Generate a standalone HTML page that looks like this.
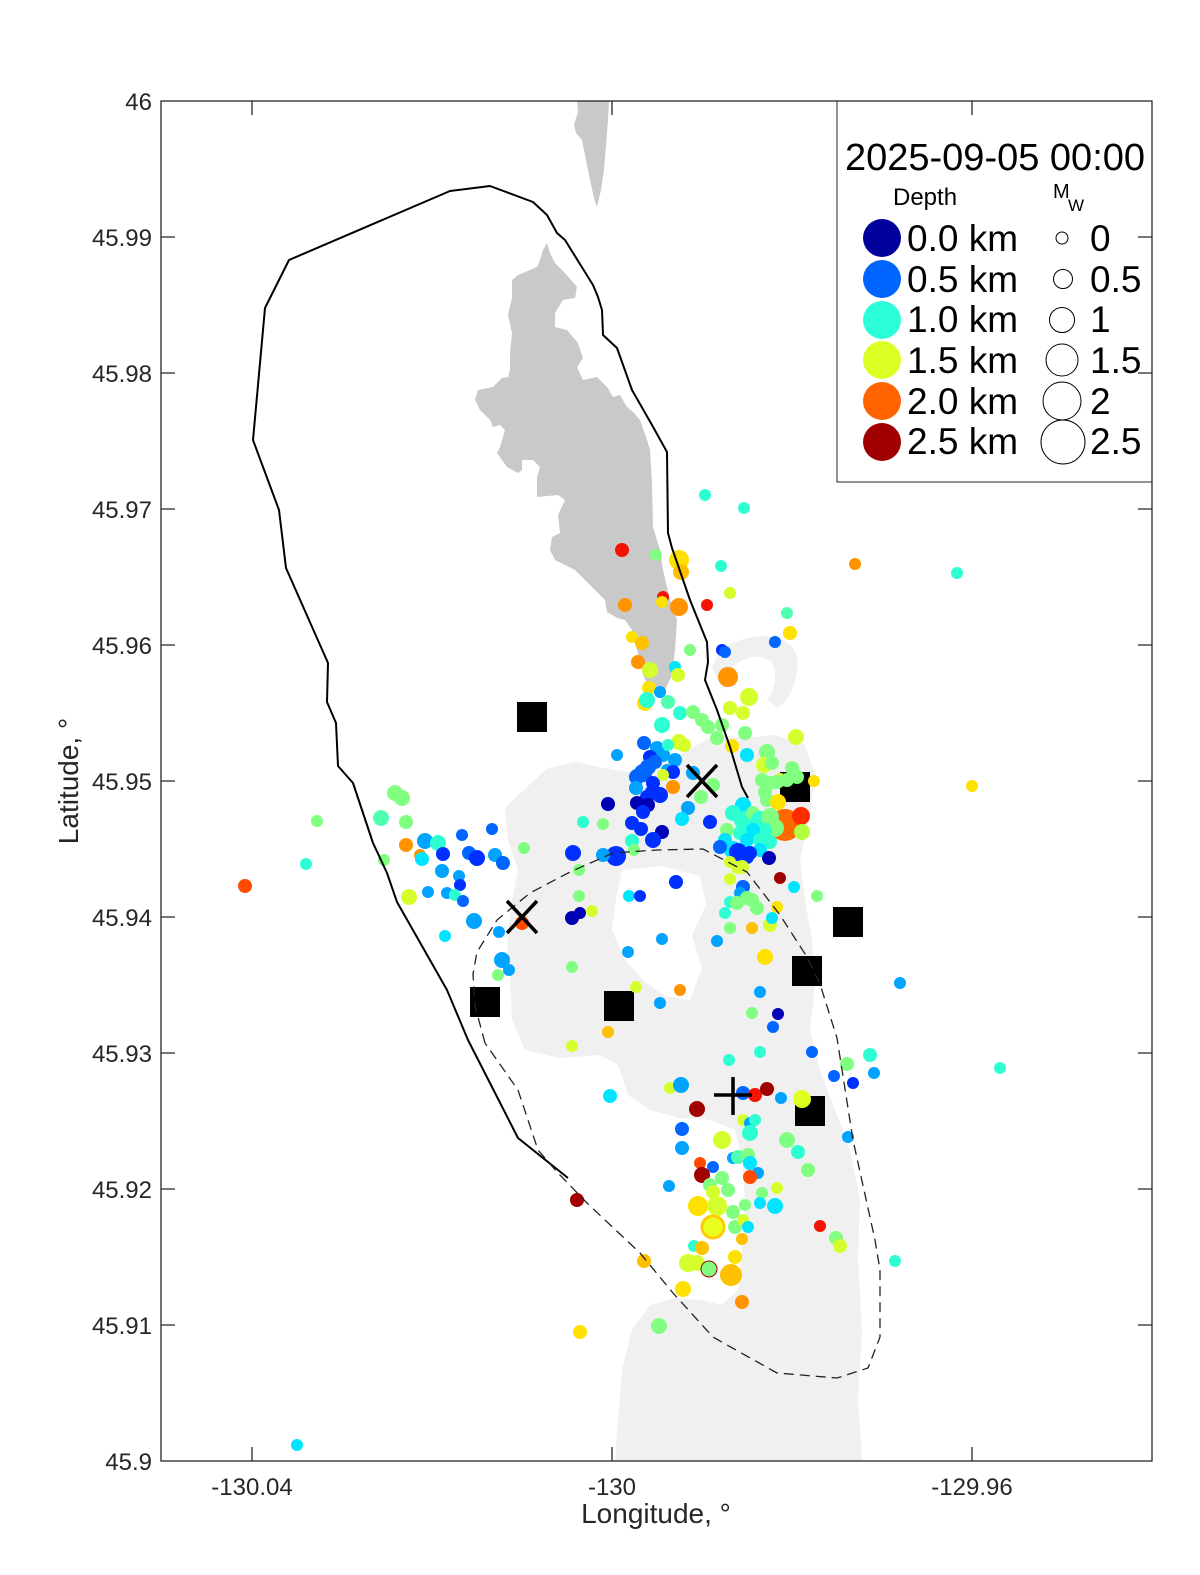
<!DOCTYPE html>
<html><head><meta charset="utf-8"><style>
html,body{margin:0;padding:0;background:#fff;}
svg{display:block;}
text{font-family:"Liberation Sans",Arial,sans-serif;}
.D{fill:#0000b4}.B{fill:#0030ff}.M{fill:#0066ff}.L{fill:#00a4ff}.C{fill:#00e4ff}.A{fill:#2effd2}.Q{fill:#50ffb0}.G{fill:#80ff80}.Y{fill:#d4ff2c}.E{fill:#ffe100}.P{fill:#ffc000}.O{fill:#ff9400}.R{fill:#ff4a00}.r{fill:#f21400}.K{fill:#a00000}
</style></head><body>
<svg width="1200" height="1575" viewBox="0 0 1200 1575" xmlns="http://www.w3.org/2000/svg">
<defs><clipPath id="ax"><rect x="161" y="101" width="991" height="1360"/></clipPath></defs>
<rect width="1200" height="1575" fill="#fff"/>
<g clip-path="url(#ax)">
<!-- light gray -->
<path fill="#f0f0f0" fill-rule="evenodd" d="M505,808 L528,786 L548,768 L575,762 L605,768 L628,772 L648,770 L668,760 L692,748 L715,735 L745,738 L775,735 L805,745 L815,775 L810,815 L800,860 L805,900 L812,940 L815,985 L810,1030 L820,1070 L835,1110 L850,1150 L860,1200 L858,1260 L862,1330 L858,1400 L862,1461 L615,1461 L618,1420 L622,1370 L632,1330 L650,1305 L675,1298 L700,1300 L722,1305 L738,1290 L742,1250 L745,1200 L742,1160 L735,1130 L710,1120 L680,1118 L650,1110 L628,1095 L618,1065 L600,1055 L560,1058 L525,1050 L512,1020 L510,980 L507,940 L512,900 L518,870 L508,840 Z M622,870 L662,866 L700,876 L706,905 L692,935 L702,968 L690,1000 L665,996 L645,982 L625,960 L612,930 L616,900 Z"/>
<path fill="#f0f0f0" d="M712,668 Q720,640 760,636 Q800,636 797,668 Q795,695 778,708 L768,700 Q780,680 772,662 Q755,650 735,665 L725,690 Z"/>
<!-- dark gray -->
<path fill="#c9c9c9" d="M577,100 L609,100 L608,120 L606,145 L604,170 L601,190 L597,207 L594,198 L590,180 L586,160 L582,140 L576,133 L574,125 L576,118 L578,112 Z"/>
<path fill="#c9c9c9" d="M547,243 L550,253 L555,263 L565,273 L577,287 L575,298 L563,300 L555,313 L555,327 L567,330 L578,343 L583,358 L577,367 L583,380 L597,377 L607,387 L613,397 L620,395 L627,407 L633,412 L640,420 L647,440 L650,450 L652,483 L653,527 L657,540 L660,550 L663,570 L670,600 L677,620 L675,650 L672,675 L665,690 L650,690 L643,675 L637,650 L632,630 L625,620 L617,618 L607,612 L605,600 L600,595 L590,585 L575,570 L555,560 L550,550 L552,537 L560,533 L558,515 L565,500 L558,495 L537,497 L537,477 L540,467 L533,460 L522,460 L522,470 L518,473 L507,467 L497,453 L500,447 L505,430 L500,425 L493,427 L490,420 L480,410 L475,400 L478,390 L493,387 L502,378 L508,377 L510,370 L510,353 L512,333 L508,315 L512,298 L512,280 L518,275 L530,270 L537,267 L540,260 L543,250 Z"/>
<!-- squares -->
<g fill="#000">
<rect x="517" y="702" width="30" height="30"/>
<rect x="780" y="772" width="30" height="30"/>
<rect x="833" y="907" width="30" height="30"/>
<rect x="792" y="956" width="30" height="30"/>
<rect x="470" y="987" width="30" height="30"/>
<rect x="604" y="991" width="30" height="30"/>
<rect x="795" y="1096" width="30" height="30"/>
</g>
<!-- events -->
<g>
<circle class="A" cx="705" cy="495" r="6"/>
<circle class="A" cx="744" cy="508" r="6"/>
<circle class="r" cx="622" cy="550" r="7"/>
<circle class="G" cx="656" cy="555" r="6"/>
<circle class="E" cx="679" cy="560" r="10"/>
<circle class="P" cx="681" cy="572" r="8"/>
<circle class="A" cx="721" cy="566" r="6"/>
<circle class="O" cx="855" cy="564" r="6"/>
<circle class="A" cx="957" cy="573" r="6"/>
<circle class="Y" cx="730" cy="593" r="6"/>
<circle class="O" cx="625" cy="605" r="7"/>
<circle class="r" cx="663" cy="597" r="6"/>
<circle class="E" cx="662" cy="602" r="6"/>
<circle class="O" cx="679" cy="607" r="9"/>
<circle class="r" cx="707" cy="605" r="6"/>
<circle class="Q" cx="787" cy="613" r="6"/>
<circle class="E" cx="790" cy="633" r="7"/>
<circle class="M" cx="775" cy="642" r="6"/>
<circle class="E" cx="632" cy="637" r="6"/>
<circle class="P" cx="642" cy="643" r="7"/>
<circle class="G" cx="690" cy="650" r="6"/>
<circle class="B" cx="722" cy="650" r="6"/>
<circle class="M" cx="725" cy="652" r="6"/>
<circle class="O" cx="728" cy="677" r="10"/>
<circle class="O" cx="638" cy="662" r="7"/>
<circle class="Y" cx="650" cy="670" r="8"/>
<circle class="C" cx="675" cy="667" r="6"/>
<circle class="Y" cx="678" cy="675" r="7"/>
<circle class="E" cx="649" cy="688" r="7"/>
<circle class="L" cx="660" cy="692" r="6"/>
<circle class="E" cx="645" cy="703" r="8"/>
<circle class="A" cx="647" cy="700" r="8"/>
<circle class="Q" cx="668" cy="702" r="7"/>
<circle class="Y" cx="749" cy="697" r="9"/>
<circle class="Y" cx="730" cy="708" r="7"/>
<circle class="Y" cx="743" cy="713" r="7"/>
<circle class="A" cx="662" cy="725" r="8"/>
<circle class="A" cx="680" cy="713" r="7"/>
<circle class="G" cx="693" cy="712" r="7"/>
<circle class="G" cx="702" cy="720" r="7"/>
<circle class="G" cx="708" cy="727" r="7"/>
<circle class="G" cx="722" cy="725" r="7"/>
<circle class="G" cx="745" cy="733" r="7"/>
<circle class="Y" cx="796" cy="737" r="8"/>
<circle class="G" cx="717" cy="738" r="7"/>
<circle class="Y" cx="679" cy="742" r="8"/>
<circle class="Y" cx="684" cy="745" r="7"/>
<circle class="E" cx="732" cy="746" r="7"/>
<circle class="C" cx="747" cy="755" r="7"/>
<circle class="G" cx="767" cy="752" r="8"/>
<circle class="G" cx="768" cy="753" r="7"/>
<circle class="L" cx="617" cy="755" r="6"/>
<circle class="M" cx="644" cy="743" r="7"/>
<circle class="L" cx="657" cy="748" r="7"/>
<circle class="L" cx="663" cy="755" r="7"/>
<circle class="L" cx="675" cy="760" r="7"/>
<circle class="A" cx="668" cy="745" r="6"/>
<circle class="B" cx="650" cy="757" r="7"/>
<circle class="M" cx="655" cy="762" r="7"/>
<circle class="L" cx="667" cy="770" r="6"/>
<circle class="B" cx="673" cy="772" r="7"/>
<circle class="M" cx="648" cy="767" r="8"/>
<circle class="M" cx="643" cy="773" r="9"/>
<circle class="M" cx="637" cy="777" r="8"/>
<circle class="B" cx="653" cy="783" r="7"/>
<circle class="L" cx="636" cy="788" r="7"/>
<circle class="B" cx="652" cy="792" r="7"/>
<circle class="B" cx="660" cy="795" r="8"/>
<circle class="B" cx="647" cy="797" r="7"/>
<circle class="D" cx="637" cy="803" r="7"/>
<circle class="D" cx="648" cy="805" r="7"/>
<circle class="B" cx="643" cy="812" r="7"/>
<circle class="O" cx="673" cy="787" r="7"/>
<circle class="Y" cx="663" cy="775" r="6"/>
<circle class="L" cx="693" cy="773" r="7"/>
<circle class="G" cx="713" cy="785" r="7"/>
<circle class="G" cx="701" cy="797" r="7"/>
<circle class="D" cx="608" cy="804" r="7"/>
<circle class="B" cx="632" cy="823" r="7"/>
<circle class="B" cx="641" cy="829" r="7"/>
<circle class="D" cx="662" cy="832" r="7"/>
<circle class="B" cx="653" cy="840" r="8"/>
<circle class="A" cx="632" cy="841" r="7"/>
<circle class="G" cx="634" cy="850" r="6"/>
<circle class="B" cx="616" cy="856" r="10"/>
<circle class="L" cx="603" cy="855" r="7"/>
<circle class="B" cx="573" cy="853" r="8"/>
<circle class="A" cx="583" cy="822" r="6"/>
<circle class="G" cx="603" cy="824" r="6"/>
<circle class="L" cx="688" cy="808" r="7"/>
<circle class="C" cx="682" cy="819" r="7"/>
<circle class="B" cx="710" cy="822" r="7"/>
<circle class="G" cx="579" cy="870" r="6"/>
<circle class="B" cx="676" cy="882" r="7"/>
<circle class="C" cx="629" cy="896" r="6"/>
<circle class="B" cx="640" cy="896" r="6"/>
<circle class="G" cx="579" cy="896" r="6"/>
<circle class="Y" cx="592" cy="911" r="6"/>
<circle class="D" cx="580" cy="913" r="6"/>
<circle class="D" cx="572" cy="918" r="7"/>
<!-- left cluster -->
<circle class="R" cx="245" cy="886" r="7"/>
<circle class="G" cx="317" cy="821" r="6"/>
<circle class="A" cx="306" cy="864" r="6"/>
<circle class="G" cx="395" cy="793" r="8"/>
<circle class="G" cx="402" cy="798" r="8"/>
<circle class="Q" cx="381" cy="818" r="8"/>
<circle class="G" cx="406" cy="822" r="7"/>
<circle class="O" cx="406" cy="845" r="7"/>
<circle class="L" cx="425" cy="841" r="8"/>
<circle class="A" cx="438" cy="843" r="8"/>
<circle class="O" cx="420" cy="855" r="6"/>
<circle class="C" cx="422" cy="859" r="7"/>
<circle class="B" cx="443" cy="854" r="7"/>
<circle class="M" cx="462" cy="835" r="6"/>
<circle class="M" cx="492" cy="829" r="6"/>
<circle class="M" cx="469" cy="853" r="7"/>
<circle class="B" cx="477" cy="858" r="8"/>
<circle class="L" cx="495" cy="855" r="7"/>
<circle class="M" cx="503" cy="863" r="7"/>
<circle class="G" cx="524" cy="848" r="6"/>
<circle class="L" cx="442" cy="871" r="7"/>
<circle class="L" cx="459" cy="876" r="6"/>
<circle class="B" cx="460" cy="885" r="6"/>
<circle class="G" cx="384" cy="860" r="6"/>
<circle class="Y" cx="409" cy="897" r="8"/>
<circle class="L" cx="428" cy="892" r="6"/>
<circle class="L" cx="447" cy="893" r="6"/>
<circle class="A" cx="455" cy="895" r="6"/>
<circle class="M" cx="463" cy="901" r="6"/>
<circle class="L" cx="474" cy="921" r="8"/>
<circle class="C" cx="445" cy="936" r="6"/>
<circle class="L" cx="499" cy="932" r="6"/>
<circle class="R" cx="522" cy="923" r="7"/>
<circle class="L" cx="502" cy="960" r="8"/>
<circle class="L" cx="509" cy="970" r="6"/>
<circle class="G" cx="498" cy="975" r="6"/>
<!-- middle -->
<circle class="G" cx="572" cy="967" r="6"/>
<circle class="Y" cx="636" cy="987" r="6"/>
<circle class="O" cx="680" cy="990" r="6"/>
<circle class="L" cx="660" cy="1003" r="6"/>
<circle class="L" cx="628" cy="952" r="6"/>
<circle class="L" cx="662" cy="939" r="6"/>
<circle class="L" cx="717" cy="941" r="6"/>
<circle class="P" cx="608" cy="1032" r="6"/>
<circle class="Y" cx="572" cy="1046" r="6"/>
<circle class="E" cx="765" cy="957" r="8"/>
<circle class="P" cx="752" cy="928" r="6"/>
<circle class="Y" cx="770" cy="925" r="7"/>
<circle class="G" cx="730" cy="928" r="6"/>
<circle class="A" cx="725" cy="913" r="6"/>
<circle class="A" cx="730" cy="902" r="6"/>
<circle class="M" cx="743" cy="887" r="7"/>
<circle class="G" cx="752" cy="900" r="7"/>
<circle class="G" cx="757" cy="908" r="7"/>
<circle class="E" cx="777" cy="907" r="6"/>
<circle class="C" cx="772" cy="918" r="6"/>
<circle class="Y" cx="730" cy="879" r="6"/>
<circle class="Y" cx="738" cy="867" r="7"/>
<circle class="K" cx="780" cy="878" r="6"/>
<circle class="C" cx="794" cy="887" r="6"/>
<circle class="G" cx="817" cy="896" r="6"/>
<circle class="L" cx="760" cy="992" r="6"/>
<circle class="G" cx="752" cy="1013" r="6"/>
<circle class="D" cx="778" cy="1014" r="6"/>
<circle class="M" cx="773" cy="1027" r="6"/>
<circle class="M" cx="812" cy="1052" r="6"/>
<circle class="A" cx="760" cy="1052" r="6"/>
<circle class="G" cx="847" cy="1064" r="7"/>
<circle class="A" cx="870" cy="1055" r="7"/>
<circle class="A" cx="729" cy="1060" r="6"/>
<circle class="M" cx="834" cy="1076" r="6"/>
<circle class="B" cx="853" cy="1083" r="6"/>
<circle class="L" cx="874" cy="1073" r="6"/>
<circle class="L" cx="900" cy="983" r="6"/>
<circle class="A" cx="1000" cy="1068" r="6"/>
<circle class="E" cx="972" cy="786" r="6"/>
<!-- dense right cluster -->
<circle class="Y" cx="764" cy="765" r="8"/>
<circle class="G" cx="772" cy="763" r="7"/>
<circle class="G" cx="762" cy="780" r="7"/>
<circle class="G" cx="770" cy="783" r="7"/>
<circle class="Y" cx="780" cy="780" r="7"/>
<circle class="G" cx="792" cy="768" r="7"/>
<circle class="G" cx="795" cy="775" r="7"/>
<circle class="E" cx="814" cy="781" r="6"/>
<circle class="G" cx="777" cy="782" r="7"/>
<circle class="G" cx="787" cy="780" r="7"/>
<circle class="G" cx="797" cy="777" r="7"/>
<circle class="G" cx="765" cy="792" r="7"/>
<circle class="G" cx="767" cy="800" r="7"/>
<circle class="E" cx="778" cy="802" r="8"/>
<circle fill="#ff6a00" cx="785" cy="825" r="16"/>
<circle fill="#ff2a00" cx="801" cy="816" r="9"/>
<circle fill="#b0ff40" cx="802" cy="832" r="8"/>
<circle class="C" cx="743" cy="805" r="8"/>
<circle class="A" cx="733" cy="813" r="8"/>
<circle class="A" cx="743" cy="820" r="9"/>
<circle class="G" cx="753" cy="813" r="7"/>
<circle class="A" cx="760" cy="820" r="9"/>
<circle class="G" cx="770" cy="817" r="9"/>
<circle class="G" cx="775" cy="828" r="9"/>
<circle class="A" cx="765" cy="830" r="7"/>
<circle class="C" cx="753" cy="830" r="7"/>
<circle class="A" cx="740" cy="833" r="7"/>
<circle class="G" cx="727" cy="830" r="7"/>
<circle class="C" cx="725" cy="840" r="7"/>
<circle class="C" cx="733" cy="850" r="9"/>
<circle class="C" cx="747" cy="840" r="7"/>
<circle class="A" cx="760" cy="840" r="7"/>
<circle class="A" cx="770" cy="842" r="7"/>
<circle class="C" cx="760" cy="850" r="7"/>
<circle class="M" cx="720" cy="847" r="7"/>
<circle class="B" cx="738" cy="852" r="9"/>
<circle class="B" cx="747" cy="857" r="7"/>
<circle class="D" cx="769" cy="858" r="7"/>
<circle class="B" cx="750" cy="853" r="7"/>
<circle class="Y" cx="730" cy="862" r="6"/>
<circle class="Y" cx="742" cy="867" r="7"/>
<circle class="L" cx="740" cy="893" r="6"/>
<circle class="G" cx="747" cy="898" r="7"/>
<circle class="G" cx="737" cy="903" r="7"/>
<!-- lower -->
<circle class="Y" cx="670" cy="1088" r="6"/>
<circle class="L" cx="681" cy="1085" r="8"/>
<circle class="C" cx="610" cy="1096" r="7"/>
<circle class="M" cx="743" cy="1093" r="7"/>
<circle class="r" cx="755" cy="1095" r="7"/>
<circle class="K" cx="767" cy="1089" r="7"/>
<circle class="L" cx="781" cy="1098" r="6"/>
<circle fill="#e0ff20" cx="802" cy="1099" r="9"/>
<circle class="K" cx="697" cy="1109" r="8"/>
<circle class="Y" cx="743" cy="1120" r="6"/>
<circle class="L" cx="750" cy="1123" r="6"/>
<circle class="A" cx="755" cy="1120" r="6"/>
<circle class="A" cx="750" cy="1133" r="8"/>
<circle class="G" cx="787" cy="1140" r="8"/>
<circle class="A" cx="798" cy="1152" r="7"/>
<circle class="M" cx="682" cy="1129" r="7"/>
<circle class="Y" cx="722" cy="1140" r="9"/>
<circle class="L" cx="682" cy="1148" r="7"/>
<circle class="L" cx="848" cy="1137" r="6"/>
<circle class="L" cx="733" cy="1158" r="6"/>
<circle class="Q" cx="738" cy="1157" r="7"/>
<circle class="G" cx="748" cy="1155" r="7"/>
<circle class="C" cx="750" cy="1163" r="7"/>
<circle class="L" cx="758" cy="1173" r="6"/>
<circle class="G" cx="808" cy="1170" r="7"/>
<circle class="R" cx="700" cy="1163" r="6"/>
<circle class="M" cx="713" cy="1167" r="6"/>
<circle class="K" cx="702" cy="1175" r="8"/>
<circle class="R" cx="750" cy="1177" r="7"/>
<circle class="L" cx="669" cy="1186" r="6"/>
<circle class="G" cx="722" cy="1178" r="7"/>
<circle class="G" cx="710" cy="1185" r="7"/>
<circle class="G" cx="728" cy="1190" r="7"/>
<circle class="Y" cx="713" cy="1192" r="7"/>
<circle class="Y" cx="777" cy="1188" r="6"/>
<circle class="G" cx="762" cy="1193" r="6"/>
<circle class="C" cx="760" cy="1203" r="6"/>
<circle class="C" cx="775" cy="1206" r="8"/>
<circle class="E" cx="698" cy="1206" r="10"/>
<circle class="Y" cx="717" cy="1206" r="10"/>
<circle class="G" cx="733" cy="1212" r="7"/>
<circle class="G" cx="745" cy="1205" r="6"/>
<circle fill="#e8ff20" stroke="#ffcc00" stroke-width="3" cx="713" cy="1227" r="11"/>
<circle class="G" cx="735" cy="1227" r="7"/>
<circle class="Y" cx="743" cy="1220" r="6"/>
<circle class="C" cx="748" cy="1227" r="6"/>
<circle class="P" cx="742" cy="1239" r="6"/>
<circle class="r" cx="820" cy="1226" r="6"/>
<circle class="G" cx="836" cy="1238" r="7"/>
<circle class="Y" cx="840" cy="1246" r="7"/>
<circle class="A" cx="895" cy="1261" r="6"/>
<circle class="A" cx="694" cy="1246" r="6"/>
<circle class="P" cx="702" cy="1248" r="7"/>
<circle class="P" cx="644" cy="1261" r="7"/>
<circle class="Y" cx="688" cy="1263" r="9"/>
<circle class="Y" cx="697" cy="1263" r="8"/>
<circle class="G" stroke="#a00000" stroke-width="1" cx="709" cy="1269" r="8"/>
<circle class="E" cx="735" cy="1257" r="7"/>
<circle class="P" cx="731" cy="1275" r="11"/>
<circle class="E" cx="683" cy="1289" r="8"/>
<circle class="O" cx="742" cy="1302" r="7"/>
<circle class="G" cx="659" cy="1326" r="8"/>
<circle class="E" cx="580" cy="1332" r="7"/>
<circle class="K" cx="577" cy="1200" r="7"/>
<circle class="C" cx="297" cy="1445" r="6"/>
</g>
<!-- contour lines -->
<path fill="none" stroke="#000" stroke-width="2" stroke-linejoin="round" d="M568,1178 L518,1138 L468,1040 L447,990 L397,902 L387,873 L373,843 L353,783 L338,766 L336,723 L327,702 L328,663 L286,568 L279,510 L253,440 L265,308 L289,260 L450,191 L490,186 L533,202 L547,215 L557,233 L565,240 L593,285 L598,297 L602,310 L603,335 L617,348 L632,390 L652,425 L667,452 L668,533 L672,548 L690,600 L707,642 L708,662 L705,680 L717,710 L730,747 L742,787 L748,798"/>
<path fill="none" stroke="#222" stroke-width="1.3" stroke-dasharray="10 6" d="M485,1043 L475,1006 L473,974 L477,952 L497,920 L530,893 L570,872 L613,853 L657,850 L703,849 L747,872 L780,915 L807,957 L820,984 L837,1038 L853,1140 L875,1240 L880,1270 L880,1337 L868,1368 L837,1378 L777,1373 L727,1345 L713,1337 L673,1293 L640,1253 L587,1203 L557,1172 L538,1150 L518,1090 Z"/>
<!-- X and + markers -->
<g stroke="#000" stroke-width="3.5" fill="none">
<path d="M687,765 L717,797 M717,765 L687,797"/>
<path d="M507,901 L537,933 M537,901 L507,933"/>
<path d="M714,1095 L752,1095 M733,1077 L733,1115"/>
</g>
</g>
<!-- legend -->
<rect x="837" y="101" width="315" height="381" fill="#fff" stroke="#262626" stroke-width="1"/>
<text x="995" y="170" font-size="38" text-anchor="middle" fill="#000">2025-09-05 00:00</text>
<text x="893" y="205" font-size="24" fill="#000">Depth</text>
<text x="1053" y="198" font-size="20" fill="#000">M</text>
<text x="1068" y="211" font-size="17" fill="#000">W</text>
<circle cx="882" cy="238" r="19" fill="#00009c"/>
<circle cx="882" cy="279" r="19" fill="#0064ff"/>
<circle cx="882" cy="320" r="19" fill="#2cffd8"/>
<circle cx="882" cy="360" r="19" fill="#dcff24"/>
<circle cx="882" cy="401" r="19" fill="#ff6400"/>
<circle cx="882" cy="442" r="19" fill="#a00000"/>
<g font-size="37" fill="#000">
<text x="907" y="251">0.0 km</text>
<text x="907" y="292">0.5 km</text>
<text x="907" y="332">1.0 km</text>
<text x="907" y="373">1.5 km</text>
<text x="907" y="414">2.0 km</text>
<text x="907" y="454">2.5 km</text>
<text x="1090" y="251">0</text>
<text x="1090" y="292">0.5</text>
<text x="1090" y="332">1</text>
<text x="1090" y="373">1.5</text>
<text x="1090" y="414">2</text>
<text x="1090" y="454">2.5</text>
</g>
<g fill="#fff" stroke="#000" stroke-width="1">
<circle cx="1062" cy="238" r="6"/>
<circle cx="1063" cy="279" r="9.5"/>
<circle cx="1062" cy="320" r="12.5"/>
<circle cx="1062" cy="360" r="16"/>
<circle cx="1062" cy="401" r="19"/>
<circle cx="1063" cy="442" r="22"/>
</g>
<!-- axes -->
<rect x="161" y="101" width="991" height="1360" fill="none" stroke="#262626" stroke-width="1.3"/>
<g stroke="#262626" stroke-width="1.3">
<path d="M161,237 h14 M161,373 h14 M161,509 h14 M161,645 h14 M161,781 h14 M161,917 h14 M161,1053 h14 M161,1189 h14 M161,1325 h14"/>
<path d="M1152,237 h-14 M1152,373 h-14 M1152,509 h-14 M1152,645 h-14 M1152,781 h-14 M1152,917 h-14 M1152,1053 h-14 M1152,1189 h-14 M1152,1325 h-14"/>
<path d="M252,1461 v-14 M612,1461 v-14 M972,1461 v-14 M252,101 v14 M612,101 v14 M972,101 v14"/>
</g>
<g font-size="24" fill="#262626" text-anchor="end">
<text x="152" y="110">46</text>
<text x="152" y="246">45.99</text>
<text x="152" y="382">45.98</text>
<text x="152" y="518">45.97</text>
<text x="152" y="654">45.96</text>
<text x="152" y="790">45.95</text>
<text x="152" y="926">45.94</text>
<text x="152" y="1062">45.93</text>
<text x="152" y="1198">45.92</text>
<text x="152" y="1334">45.91</text>
<text x="152" y="1470">45.9</text>
</g>
<g font-size="24" fill="#262626" text-anchor="middle">
<text x="252" y="1495">-130.04</text>
<text x="612" y="1495">-130</text>
<text x="972" y="1495">-129.96</text>
</g>
<text x="656" y="1523" font-size="28" fill="#262626" text-anchor="middle">Longitude, °</text>
<text transform="translate(78,781) rotate(-90)" font-size="28" fill="#262626" text-anchor="middle">Latitude, °</text>
</svg>
</body></html>
